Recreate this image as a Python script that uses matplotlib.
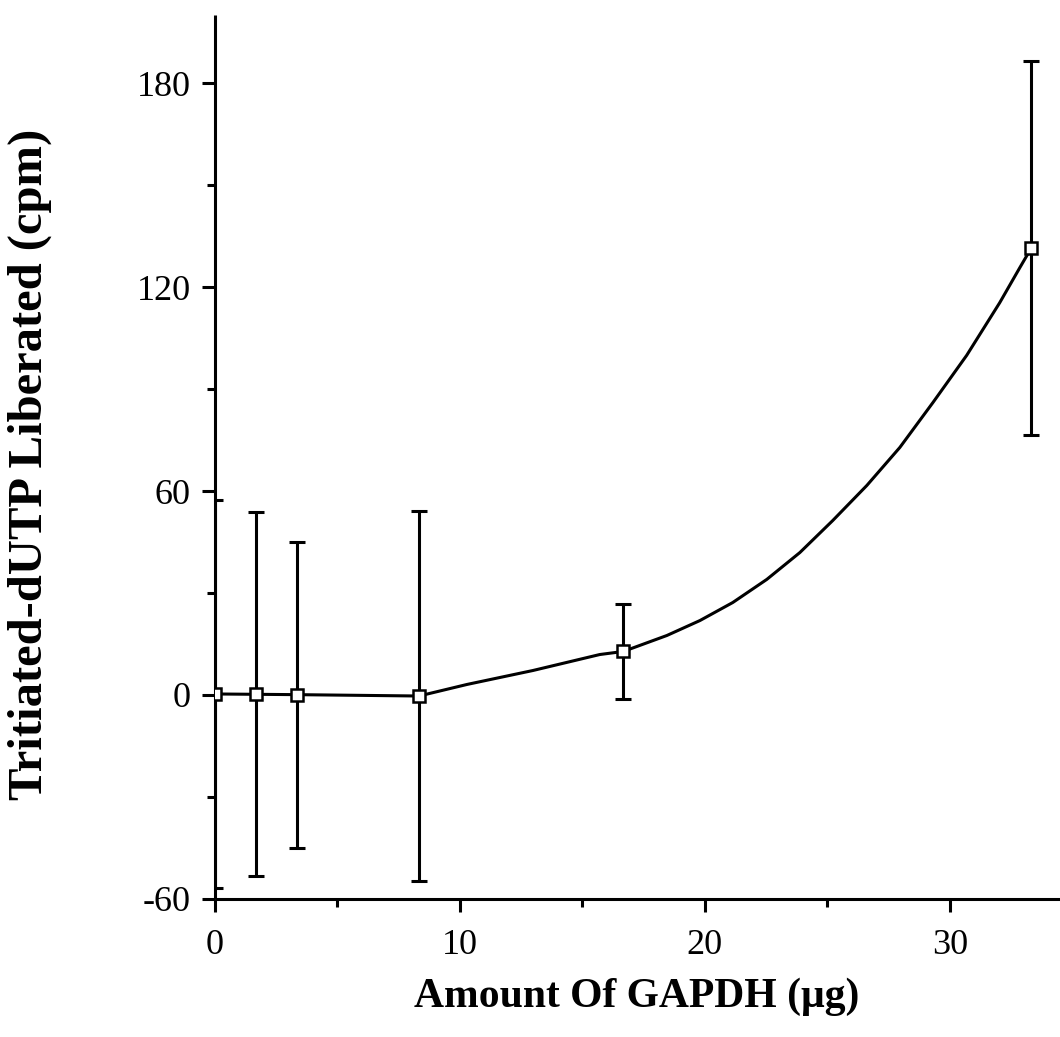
import numpy as np
import matplotlib
matplotlib.use("Agg")
import matplotlib.pyplot as plt
from matplotlib.ticker import MultipleLocator


# GAPDH amounts (ug) and liberated counts (cpm) with their errors
gapdh_ug = [0.0, 1.67, 3.33, 8.33, 16.67, 33.33]
cpm = [0.3, 0.2, 0.1, -0.3, 12.8, 131.5]
cpm_err = [57.0, 53.5, 45.0, 54.5, 14.0, 55.0]

# fitted curve drawn through the points
fit_x = [0.0, 1.67, 3.33, 8.33, 10.29, 12.98, 15.71, 16.67, 18.45, 19.80,
         21.14, 22.53, 23.88, 25.22, 26.61, 27.96, 29.31, 30.69, 32.04,
         32.86, 33.33]
fit_y = [0.3, 0.2, 0.1, -0.3, 3.1, 7.2, 11.9, 12.8, 17.5, 21.9,
         27.2, 34.0, 41.9, 51.3, 61.6, 72.8, 86.0, 99.9, 115.4,
         125.7, 131.5]

x_ticks = [0, 10, 20, 30]
y_ticks = [-60, 0, 60, 120, 180]

plt.rcParams["font.family"] = ["Liberation Serif", "DejaVu Serif"]
plt.rcParams["axes.unicode_minus"] = False

fig = plt.figure(figsize=(10.6, 10.37), dpi=100)
ax = fig.add_axes([0.2028, 0.1331, 1.0 - 0.2028, 0.9855 - 0.1331])

ax.plot(fit_x, fit_y, color="black", lw=2.2, solid_joinstyle="round",
        solid_capstyle="round", zorder=2)
ax.errorbar(gapdh_ug, cpm, yerr=cpm_err, fmt="none", ecolor="black",
            elinewidth=2.2, capsize=5.5, capthick=2.2, zorder=3)
ax.plot(gapdh_ug, cpm, ls="none", marker="s", ms=8.5, mfc="white",
        mec="black", mew=1.8, zorder=4)

ax.set_xlim(0, 34.5)
ax.set_ylim(-60, 200)
ax.set_xticks(x_ticks)
ax.set_yticks(y_ticks)
ax.xaxis.set_minor_locator(MultipleLocator(5))
ax.yaxis.set_minor_locator(MultipleLocator(30))

for side in ["top", "right"]:
    ax.spines[side].set_visible(False)
for side in ["left", "bottom"]:
    ax.spines[side].set_linewidth(2.2)
    ax.spines[side].set_capstyle("butt")

ax.tick_params(axis="both", which="major", direction="out", length=9.5,
               width=2.2, labelsize=26)
ax.tick_params(axis="both", which="minor", direction="out", length=6,
               width=2.2)
ax.tick_params(axis="x", which="major", pad=12)
ax.tick_params(axis="y", which="major", pad=8)

fig.text(0.601, 0.029, "Amount Of GAPDH (\u03bcg)", ha="center", va="baseline",
         fontsize=30, fontweight="bold")
fig.text(0.028, 0.552, "Tritiated-dUTP Liberated (cpm)", ha="center",
         va="center", rotation=90, fontsize=35, fontweight="bold")

fig.savefig("out.png", dpi=100, facecolor="white")
